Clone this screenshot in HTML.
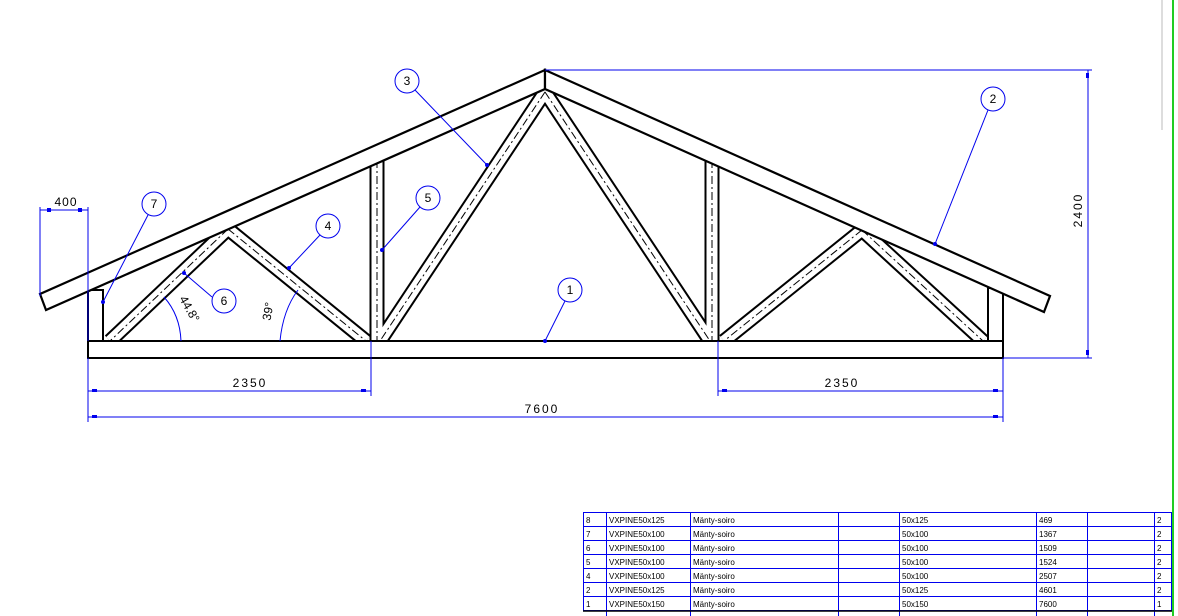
<!DOCTYPE html>
<html><head><meta charset="utf-8"><style>
html,body{margin:0;padding:0;background:#fff;}
svg{display:block;}
text{font-family:"Liberation Sans",sans-serif;}
</style></head><body>
<svg width="1178" height="616" viewBox="0 0 1178 616" xmlns="http://www.w3.org/2000/svg">
<rect width="1178" height="616" fill="#fff"/>
<!-- webs -->
<g stroke-linecap="butt" fill="none">
  <g stroke="#000" stroke-width="15">
    <line x1="377" y1="160" x2="377" y2="341"/>
    <line x1="712" y1="160" x2="712" y2="341"/>
    <line x1="545" y1="92" x2="380" y2="341"/>
    <line x1="545" y1="92" x2="710" y2="341"/>
    <line x1="228" y1="229" x2="110" y2="341"/>
    <line x1="228" y1="229" x2="366" y2="341"/>
    <line x1="862" y1="230" x2="724" y2="341"/>
    <line x1="862" y1="230" x2="983" y2="341"/>
  </g>
  <g stroke="#fff" stroke-width="11">
    <line x1="377" y1="160" x2="377" y2="341"/>
    <line x1="712" y1="160" x2="712" y2="341"/>
    <line x1="545" y1="92" x2="380" y2="341"/>
    <line x1="545" y1="92" x2="710" y2="341"/>
    <line x1="228" y1="229" x2="110" y2="341"/>
    <line x1="228" y1="229" x2="366" y2="341"/>
    <line x1="862" y1="230" x2="724" y2="341"/>
    <line x1="862" y1="230" x2="983" y2="341"/>
  </g>
  <g stroke="#000" stroke-width="1" stroke-dasharray="8,3,2,3">
    <line x1="377" y1="160" x2="377" y2="341"/>
    <line x1="712" y1="160" x2="712" y2="341"/>
    <line x1="545" y1="92" x2="380" y2="341"/>
    <line x1="545" y1="92" x2="710" y2="341"/>
    <line x1="228" y1="229" x2="110" y2="341"/>
    <line x1="228" y1="229" x2="366" y2="341"/>
    <line x1="862" y1="230" x2="724" y2="341"/>
    <line x1="862" y1="230" x2="983" y2="341"/>
  </g>
</g>
<!-- end posts -->
<rect x="88" y="290" width="15" height="51" fill="#fff" stroke="#000" stroke-width="2"/>
<rect x="988" y="288" width="15" height="53" fill="#fff" stroke="#000" stroke-width="2"/>
<!-- rafters -->
<polygon points="545,70 40,294 46,310 545,89" fill="#fff" stroke="#000" stroke-width="2.2" stroke-linejoin="miter"/>
<polygon points="545,70 1050,296 1044,312 545,89" fill="#fff" stroke="#000" stroke-width="2.2"/>
<!-- bottom chord -->
<rect x="88" y="341" width="915" height="17" fill="#fff" stroke="#000" stroke-width="2"/>
<!-- dimensions -->
<g stroke="#0000ee" stroke-width="1" fill="none">
  <line x1="40" y1="207" x2="40" y2="296"/>
  <line x1="88" y1="207" x2="88" y2="341"/>
  <line x1="40" y1="210" x2="88" y2="210"/>
  <line x1="88" y1="358" x2="88" y2="422"/>
  <line x1="371" y1="341" x2="371" y2="396"/>
  <line x1="718" y1="341" x2="718" y2="396"/>
  <line x1="1003" y1="358" x2="1003" y2="422"/>
  <line x1="88" y1="391" x2="371" y2="391"/>
  <line x1="718" y1="391" x2="1003" y2="391"/>
  <line x1="88" y1="417" x2="1003" y2="417"/>
  <line x1="545" y1="70" x2="1092" y2="70"/>
  <line x1="1003" y1="358" x2="1092" y2="358"/>
  <line x1="1088" y1="70" x2="1088" y2="358"/>
  <!-- leaders -->
  <circle cx="570" cy="290" r="12"/><line x1="565" y1="301" x2="545" y2="341"/>
  <circle cx="993" cy="99" r="12"/><line x1="988" y1="110" x2="935" y2="244"/>
  <circle cx="407" cy="81" r="12"/><line x1="415" y1="90" x2="487" y2="165"/>
  <circle cx="328" cy="226" r="12"/><line x1="320" y1="235" x2="289" y2="268"/>
  <circle cx="428" cy="198" r="12"/><line x1="420" y1="207" x2="382" y2="250"/>
  <circle cx="224" cy="301" r="12"/><line x1="212" y1="297" x2="184" y2="273"/>
  <circle cx="154" cy="204" r="12"/><line x1="148" y1="215" x2="103" y2="302"/>
  <path d="M164,297 Q180,315 181,341"/>
  <path d="M298,290 Q283,310 280,341"/>
</g>
<g fill="#0000ee">
  <rect x="47" y="208" width="4" height="4"/><rect x="78" y="208" width="4" height="4"/>
  <rect x="92" y="389" width="5" height="3"/><rect x="361" y="389" width="5" height="3"/>
  <rect x="722" y="389" width="5" height="3"/><rect x="993" y="389" width="5" height="3"/>
  <rect x="92" y="415" width="5" height="3"/><rect x="993" y="415" width="5" height="3"/>
  <rect x="1086" y="73" width="3" height="5"/><rect x="1086" y="350" width="3" height="5"/>
  <circle cx="545" cy="341" r="2"/><circle cx="935" cy="244" r="2"/><circle cx="487" cy="165" r="2"/>
  <circle cx="289" cy="268" r="2"/><circle cx="382" cy="250" r="2"/><circle cx="184" cy="273" r="2"/><circle cx="103" cy="302" r="2"/>
</g>
<g font-size="12" fill="#000" text-anchor="middle">
  <text x="570" y="294">1</text><text x="993" y="103">2</text><text x="407" y="85">3</text>
  <text x="328" y="230">4</text><text x="428" y="202">5</text><text x="224" y="305">6</text><text x="154" y="208">7</text>
  <text x="66" y="206" letter-spacing="1">400</text>
  <text x="250" y="387" letter-spacing="2">2350</text>
  <text x="842" y="387" letter-spacing="2">2350</text>
  <text x="542" y="413" letter-spacing="2">7600</text>
  <text x="1082" y="210" transform="rotate(-90 1082 210)" letter-spacing="2">2400</text>
  <text x="186" y="311" transform="rotate(60 186 311)">44.8°</text>
  <text x="272" y="312" transform="rotate(-80 272 312)">39°</text>
</g>
<!-- right border lines -->
<line x1="1162" y1="0" x2="1162" y2="130" stroke="#bbb" stroke-width="1"/>
<line x1="1173" y1="0" x2="1173" y2="616" stroke="#22cc22" stroke-width="2"/>
<!-- table -->
<g stroke="#0000ee" stroke-width="1" fill="none">
  <rect x="583.5" y="512.5" width="588" height="98"/>
  <line x1="583" y1="526.5" x2="1172" y2="526.5"/>
  <line x1="583" y1="540.5" x2="1172" y2="540.5"/>
  <line x1="583" y1="554.5" x2="1172" y2="554.5"/>
  <line x1="583" y1="568.5" x2="1172" y2="568.5"/>
  <line x1="583" y1="582.5" x2="1172" y2="582.5"/>
  <line x1="583" y1="596.5" x2="1172" y2="596.5"/>
  <line x1="606.5" y1="512" x2="606.5" y2="616"/>
  <line x1="690.5" y1="512" x2="690.5" y2="616"/>
  <line x1="838.5" y1="512" x2="838.5" y2="616"/>
  <line x1="899.5" y1="512" x2="899.5" y2="616"/>
  <line x1="1036.5" y1="512" x2="1036.5" y2="616"/>
  <line x1="1087.5" y1="512" x2="1087.5" y2="616"/>
  <line x1="1154.5" y1="512" x2="1154.5" y2="616"/>
</g>
<line x1="583" y1="611" x2="1172" y2="611" stroke="#000" stroke-width="1.5"/>
<g font-size="8" fill="#000">
  <g transform="translate(0,523)"><text x="586">8</text><text x="609">VXPINE50x125</text><text x="693">Mänty-soiro</text><text x="902">50x125</text><text x="1039">469</text><text x="1157">2</text></g>
  <g transform="translate(0,537)"><text x="586">7</text><text x="609">VXPINE50x100</text><text x="693">Mänty-soiro</text><text x="902">50x100</text><text x="1039">1367</text><text x="1157">2</text></g>
  <g transform="translate(0,551)"><text x="586">6</text><text x="609">VXPINE50x100</text><text x="693">Mänty-soiro</text><text x="902">50x100</text><text x="1039">1509</text><text x="1157">2</text></g>
  <g transform="translate(0,565)"><text x="586">5</text><text x="609">VXPINE50x100</text><text x="693">Mänty-soiro</text><text x="902">50x100</text><text x="1039">1524</text><text x="1157">2</text></g>
  <g transform="translate(0,579)"><text x="586">4</text><text x="609">VXPINE50x100</text><text x="693">Mänty-soiro</text><text x="902">50x100</text><text x="1039">2507</text><text x="1157">2</text></g>
  <g transform="translate(0,593)"><text x="586">2</text><text x="609">VXPINE50x125</text><text x="693">Mänty-soiro</text><text x="902">50x125</text><text x="1039">4601</text><text x="1157">2</text></g>
  <g transform="translate(0,607)"><text x="586">1</text><text x="609">VXPINE50x150</text><text x="693">Mänty-soiro</text><text x="902">50x150</text><text x="1039">7600</text><text x="1157">1</text></g>
</g>
</svg>
</body></html>
